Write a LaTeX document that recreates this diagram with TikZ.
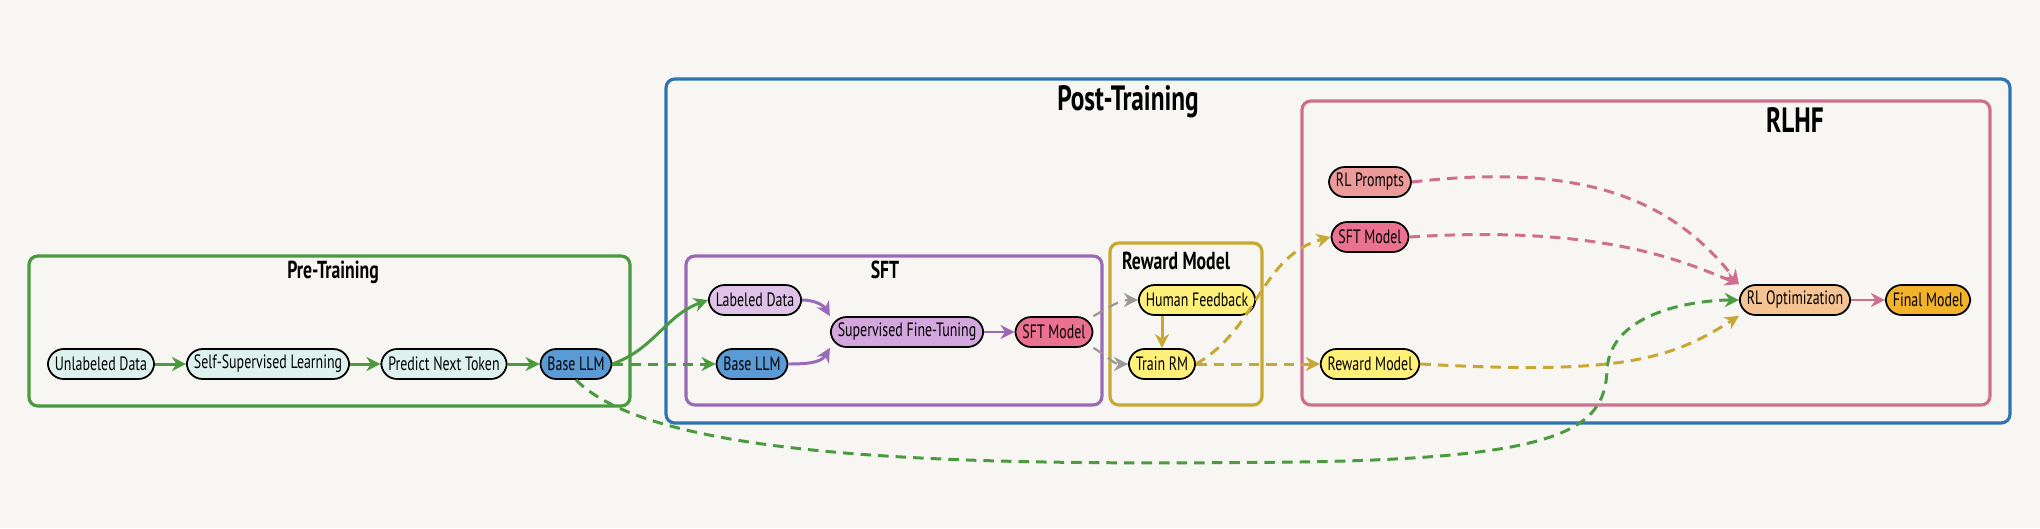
\documentclass[tikz,border=0pt]{standalone}
\usepackage{fontspec}
\setmainfont{PT Sans}[FakeStretch=0.72]
\usetikzlibrary{arrows.meta}
\definecolor{bg}{HTML}{F7F6F2}
\definecolor{cgreen}{HTML}{4A9A3F}
\definecolor{cblue}{HTML}{2F74B0}
\definecolor{cpurple}{HTML}{9A6AB8}
\definecolor{cyel}{HTML}{C8A832}
\definecolor{cpink}{HTML}{CF6F90}
\definecolor{cgray}{HTML}{999999}
\definecolor{fcyan}{HTML}{DDF1EE}
\definecolor{fblue}{HTML}{5B9BD5}
\definecolor{flav}{HTML}{E0C2E8}
\definecolor{fpur}{HTML}{D4A6DE}
\definecolor{fpink}{HTML}{EA7290}
\definecolor{fyel}{HTML}{FFF07A}
\definecolor{fsal}{HTML}{EC9A9A}
\definecolor{fpeach}{HTML}{F6C492}
\definecolor{fgold}{HTML}{F2B22A}
\begin{document}
\begin{tikzpicture}[x=0.02cm,y=-0.02cm,
  nd/.style={draw=black,line width=1pt,rounded corners=9pt,minimum height=0.6cm,inner xsep=4pt,inner ysep=1pt,font=\fontsize{11}{12}\selectfont},
  box/.style={line width=1.8pt,rounded corners=5pt},
  ttl/.style={font=\bfseries\fontsize{14}{15}\selectfont},
  big/.style={font=\bfseries\fontsize{20}{22}\selectfont},
  ar/.style={line width=1.7pt,-{Stealth[length=8pt,width=8pt]}},
  da/.style={ar,dashed,dash pattern=on 6pt off 4pt}]
\fill[bg] (0,0) rectangle (2040,528);
\useasboundingbox (0,0) rectangle (2040,528);
% boxes
\draw[box,cgreen] (29,256) rectangle (630,406);
\node[ttl] (tpre) at (333,272) {Pre-Training};
\draw[box,cblue] (666,79) rectangle (2010,423);
\node[big] (tpost) at (1128,102) {Post-Training};
\draw[box,cpurple] (686,256) rectangle (1102,405);
\node[ttl] (tsft) at (885,270) {SFT};
\draw[box,cyel] (1110,243) rectangle (1262,405);
\node[ttl] (trm) at (1176,261) {Reward Model};
\draw[box,cpink] (1302,101) rectangle (1990,405);
\node[big] (trl) at (1795,120) {RLHF};
% nodes
\node[nd,fill=fcyan] (ud) at (101,364) {Unlabeled Data};
\node[nd,fill=fcyan] (ssl) at (268,364) {Self-Supervised Learning};
\node[nd,fill=fcyan] (pnt) at (444,364) {Predict Next Token};
\node[nd,fill=fblue] (bl) at (576,364) {Base LLM};
\node[nd,fill=flav] (ld) at (755,300) {Labeled Data};
\node[nd,fill=fblue] (bl2) at (752,364) {Base LLM};
\node[nd,fill=fpur] (sft) at (907,332) {Supervised Fine-Tuning};
\node[nd,fill=fpink] (sm) at (1054,332) {SFT Model};
\node[nd,fill=fyel] (hf) at (1197,300) {Human Feedback};
\node[nd,fill=fyel] (tr) at (1162,364) {Train RM};
\node[nd,fill=fsal] (rp) at (1370,182) {RL Prompts};
\node[nd,fill=fpink] (sm3) at (1370,237) {SFT Model};
\node[nd,fill=fyel] (rm3) at (1370,364) {Reward Model};
\node[nd,fill=fpeach] (rlo) at (1795,300) {RL Optimization};
\node[nd,fill=fgold] (fm) at (1928,300) {Final Model};
% edges
\draw[ar,cgreen] (ud) -- (ssl);
\draw[ar,cgreen] (ssl) -- (pnt);
\draw[ar,cgreen] (pnt) -- (bl);
\draw[ar,cgreen] (bl.east) to[out=20,in=200] (ld.west);
\draw[da,cgreen] (bl) -- (bl2);
\draw[da,cgreen] (bl.south) .. controls (660,465) and (1000,465) .. (1300,462) .. controls (1560,458) and (1605,430) .. (1607,370) .. controls (1610,310) and (1700,300) .. (rlo.west);
\draw[ar,cpurple] (ld.east) to[out=0,in=120] (sft.north west);
\draw[ar,cpurple] (bl2.east) to[out=0,in=240] (sft.south west);
\draw[ar,cpurple] (sft) -- (sm);
\draw[da,cgray,line width=1.3pt] (sm.north east) to[out=30,in=180] (hf.west);
\draw[da,cgray,line width=1.3pt] (sm.south east) to[out=-30,in=180] (tr.west);
\draw[ar,cyel] (tr |- hf.south) -- (tr);
\draw[da,cyel] (tr.east) to[out=30,in=195] (sm3.west);
\draw[da,cyel] (tr) -- (rm3);
\draw[da,cpink] (rp.east) .. controls (1600,160) and (1680,210) .. (rlo.north west);
\draw[da,cpink] (sm3.east) .. controls (1600,225) and (1680,260) .. (rlo.north west);
\draw[da,cyel] (rm3.east) .. controls (1620,375) and (1670,360) .. (rlo.south west);
\draw[ar,cpink] (rlo) -- (fm);
\end{tikzpicture}
\end{document}
